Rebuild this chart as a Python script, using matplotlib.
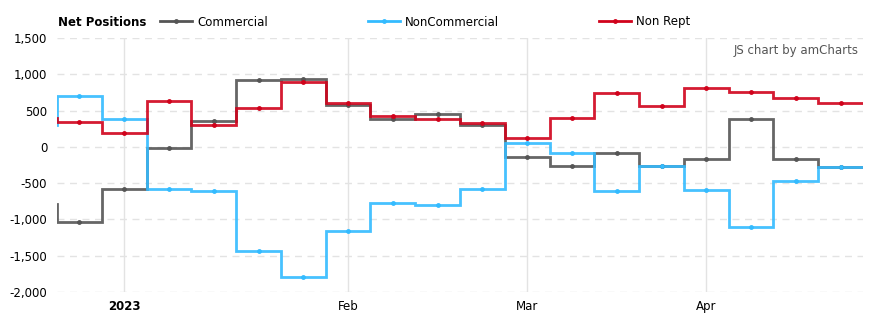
import numpy as np
import matplotlib.pyplot as plt
from matplotlib.lines import Line2D
from matplotlib.ticker import FuncFormatter

# weekly report dates (first value is the week before the visible range)
dates = ['2022-12-20', '2022-12-27', '2023-01-03', '2023-01-10', '2023-01-17',
         '2023-01-24', '2023-01-31', '2023-02-07', '2023-02-14', '2023-02-21',
         '2023-02-28', '2023-03-07', '2023-03-14', '2023-03-21', '2023-03-28',
         '2023-04-04', '2023-04-11', '2023-04-18', '2023-04-25']

commercial = [-790, -1030, -575, -22, 354, 918, 938, 580, 386, 451, 299,
              -142, -267, -87, -267, -170, 377, -170, -281]
non_commercial = [300, 700, 386, -585, -613, -1429, -1789, -1166, -779, -807,
                  -585, 51, -87, -613, -267, -599, -1111, -469, -281]
non_rept = [400, 349, 197, 625, 299, 529, 887, 611, 424, 377, 327, 120, 391,
            736, 561, 805, 750, 672, 598]

month_ticks = ['2023-01-03', '2023-02-07', '2023-03-07', '2023-04-04']
month_labels = ['2023', 'Feb', 'Mar', 'Apr']

series = [
    ('Commercial', commercial, '#555555'),
    ('NonCommercial', non_commercial, '#33bbff'),
    ('Non Rept', non_rept, '#d0021b'),
]

fig = plt.figure(figsize=(8.78, 3.26), dpi=100)
ax = fig.add_axes([57 / 878, 34 / 326, 806 / 878, 254 / 326])

idx = np.arange(len(dates)) - 1   # equal spacing, one slot per report
edges = np.arange(len(dates) + 1) - 1.5

handles = []
for name, vals, col in series:
    ax.stairs(vals, edges, baseline=None, color=col, lw=2, alpha=0.9)
    ax.plot(idx, vals, 'o', color=col, ms=3.5, mec='none')
    handles.append(Line2D([0], [0], color=col, lw=2, marker='o', ms=3.5, mec='none'))

ax.set_xlim(-0.5, len(dates) - 1.5)
ax.set_ylim(-2000, 1500)
ax.set_yticks(np.arange(-2000, 1501, 500))
ax.yaxis.set_major_formatter(FuncFormatter(lambda v, p: f'{int(v):,}'))

tick_pos = [dates.index(d) - 1 for d in month_ticks]
ax.set_xticks(tick_pos)
ax.set_xticklabels(month_labels)
ax.get_xticklabels()[0].set_fontweight('bold')

for s in ax.spines.values():
    s.set_visible(False)
ax.tick_params(length=0, labelsize=8.5, colors='#000000')
ax.tick_params(axis='x', pad=6)
ax.tick_params(axis='y', pad=7)

ax.yaxis.grid(True, color='#e3e3e3', ls=(0, (5, 4)), lw=1)
ax.xaxis.grid(True, color='#e3e3e3', ls='-', lw=1)
ax.set_axisbelow(True)

ax.text(0.995, 0.95, 'JS chart by amCharts', transform=ax.transAxes,
        ha='right', va='center', fontsize=8.5, color='#555555')

fig.text(58 / 878, 1 - 22 / 326, 'Net Positions', ha='left', va='center',
         fontsize=8.5, fontweight='bold')
fig.legend(handles, [s[0] for s in series], loc='center left',
           bbox_to_anchor=(160 / 878, 1 - 22 / 326), ncol=3, frameon=False,
           fontsize=8.5, handlelength=2.7, handletextpad=0.45,
           columnspacing=8.45, borderaxespad=0, borderpad=0)

fig.savefig('out.png', dpi=100)
